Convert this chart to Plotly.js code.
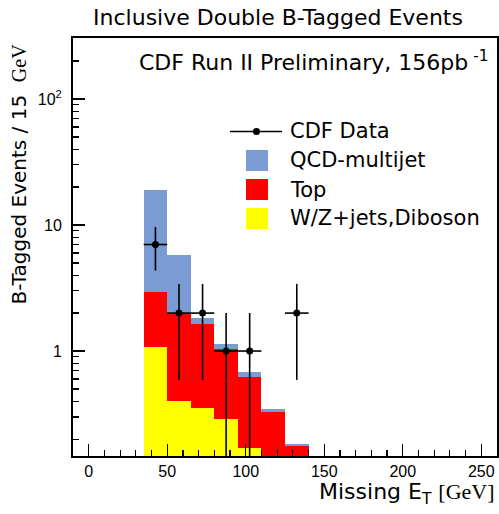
<!DOCTYPE html>
<html>
<head>
<meta charset="utf-8">
<script src="https://cdn.plot.ly/plotly-3.0.1.min.js"></script>
<style>html,body{margin:0;padding:0;background:#fff;}#chart{width:499px;height:514px;}</style>
</head>
<body>
<div id="chart"></div>
<script>
// Bin centres (15 GeV wide bins, 35-140 GeV)
var binCenters = [42.5, 57.5, 72.5, 87.5, 102.5, 117.5, 132.5];
// Per-process contributions (stacked)
var wzDiboson = [1.08, 0.40, 0.35, 0.29, 0.17, 0.10, 0.05];
var topPair   = [1.84, 1.61, 1.28, 0.75, 0.455, 0.226, 0.127];
var qcdMulti  = [16.1, 3.77, 0.19, 0.10, 0.06, 0.018, 0.005];
// CDF data points
var dataX    = [42.5, 57.5, 72.5, 87.5, 102.5, 132.5];
var dataY    = [7, 2, 2, 1, 1, 2];
var dataErr  = [2.65, 1.41, 1.41, 1, 1, 1.41];
var dataXErr = [7.5, 7.5, 7.5, 7.5, 7.5, 7.5];
// Axis ticks
var yMajorVals = [1, 10, 100];
var yMajorText = ['1', '10', '10<sup>2</sup>'];
var yMinorVals = [0.2,0.3,0.4,0.5,0.6,0.7,0.8,0.9,2,3,4,5,6,7,8,9,20,30,40,50,60,70,80,90,200,300];
var xMajorVals = [0, 50, 100, 150, 200, 250];
var xMinorVals = [10,20,30,40,60,70,80,90,110,120,130,140,160,170,180,190,210,220,230,240];
var legendNames = ['CDF Data', 'QCD-multijet', 'Top', 'W/Z+jets,Diboson'];
var colors = {qcd: '#7b9bd3', top: '#ff0000', wz: '#ffff00'};

// plot-area helpers (pixel -> paper)
var L = 73, R = 497, T = 38, B = 456;
function px(x){ return (x - L) / (R - L); }
function py(y){ return (B - y) / (B - T); }

var txtFont = 'DejaVu Sans, Liberation Sans, Arial, sans-serif';
var serif = '<span style="font-family:Liberation Serif, Times New Roman, serif">';

var traces = [
  {type:'bar', x:binCenters, y:wzDiboson, width:15, name:legendNames[3],
   marker:{color:colors.wz, line:{width:0}}, hoverinfo:'skip'},
  {type:'bar', x:binCenters, y:topPair, width:15, name:legendNames[2],
   marker:{color:colors.top, line:{width:0}}, hoverinfo:'skip'},
  {type:'bar', x:binCenters, y:qcdMulti, width:15, name:legendNames[1],
   marker:{color:colors.qcd, line:{width:0}}, hoverinfo:'skip'},
  {type:'scatter', mode:'markers', x:dataX, y:dataY, name:legendNames[0],
   marker:{color:'#000', size:7},
   error_y:{type:'data', array:dataErr, arrayminus:dataErr, color:'#000', thickness:1.6, width:0},
   error_x:{type:'data', array:dataXErr, color:'#000', thickness:1.6, width:0}}
];

var shapes = [
  {type:'line', xref:'paper', yref:'paper', x0:px(230), x1:px(282), y0:py(131.5), y1:py(131.5), line:{color:'#000', width:1.6}},
  {type:'circle', xref:'paper', yref:'paper', x0:px(253), x1:px(260), y0:py(135), y1:py(128), fillcolor:'#000', line:{color:'#000', width:0}},
  {type:'rect', xref:'paper', yref:'paper', x0:px(246), x1:px(268), y0:py(171), y1:py(150), fillcolor:colors.qcd, line:{width:0}},
  {type:'rect', xref:'paper', yref:'paper', x0:px(246), x1:px(268), y0:py(200), y1:py(179), fillcolor:colors.top, line:{width:0}},
  {type:'rect', xref:'paper', yref:'paper', x0:px(246), x1:px(268), y0:py(229), y1:py(208), fillcolor:colors.wz, line:{width:0}}
];

var legY = [131, 160, 189.5, 218];
var annotations = [];
for (var i = 0; i < legendNames.length; i++) {
  annotations.push({xref:'paper', yref:'paper', x:px(288), y:py(legY[i]), xanchor:'left', yanchor:'middle',
    text:legendNames[i], showarrow:false, font:{family:txtFont, size:21, color:'#000'}});
}
annotations.push({xref:'paper', yref:'paper', x:px(491), y:py(61), xanchor:'right', yanchor:'middle',
  text:'CDF Run II Preliminary, 156pb<sup> -1</sup>', showarrow:false, font:{family:txtFont, size:22, color:'#000'}});
annotations.push({xref:'paper', yref:'paper', x:px(18), y:py(42), xanchor:'center', yanchor:'top', textangle:-90,
  text:'B-Tagged Events / 15  ' + serif + 'GeV</span>', showarrow:false,
  font:{family:txtFont, size:20, color:'#000'}});
annotations.push({xref:'paper', yref:'paper', x:1, y:py(494), xanchor:'right', yanchor:'middle',
  text:'Missing E<sub>T</sub> ' + serif + '[GeV]</span>', showarrow:false,
  font:{family:txtFont, size:22, color:'#000'}});

var layout = {
  width:499, height:514,
  margin:{l:L, r:499-R, t:T, b:514-B, pad:0},
  paper_bgcolor:'#fff', plot_bgcolor:'#fff',
  barmode:'stack', bargap:0, showlegend:false,
  font:{family:'Liberation Sans, Arial, sans-serif', color:'#000'},
  title:{text:'Inclusive Double B-Tagged Events', xref:'paper', x:px(278), xanchor:'center',
         yref:'container', y:1 - 17/514, yanchor:'middle', font:{family:txtFont, size:22, color:'#000'}},
  xaxis:{range:[-10, 260], tickmode:'array', tickvals:xMajorVals,
         ticks:'inside', ticklen:12, tickwidth:1.2, tickcolor:'#000',
         minor:{tickmode:'array', tickvals:xMinorVals,
                ticks:'inside', ticklen:6, tickwidth:1.2, tickcolor:'#000', showgrid:false},
         showline:true, linecolor:'#000', linewidth:2, mirror:true, showgrid:false, zeroline:false,
         tickfont:{size:16, color:'#000'}},
  yaxis:{type:'log', range:[-0.833, 2.484], tickmode:'array', tickvals:yMajorVals, ticktext:yMajorText,
         ticks:'inside', ticklen:12, tickwidth:1.2, tickcolor:'#000',
         minor:{tickmode:'array', tickvals:yMinorVals, ticks:'inside', ticklen:6, tickwidth:1.2, tickcolor:'#000', showgrid:false},
         showline:true, linecolor:'#000', linewidth:2, mirror:true, showgrid:false, zeroline:false,
         tickfont:{size:16, color:'#000'}, ticklabelstandoff:6},
  shapes:shapes,
  annotations:annotations
};

Plotly.newPlot('chart', traces, layout, {displayModeBar:false, staticPlot:true});
</script>
</body>
</html>
